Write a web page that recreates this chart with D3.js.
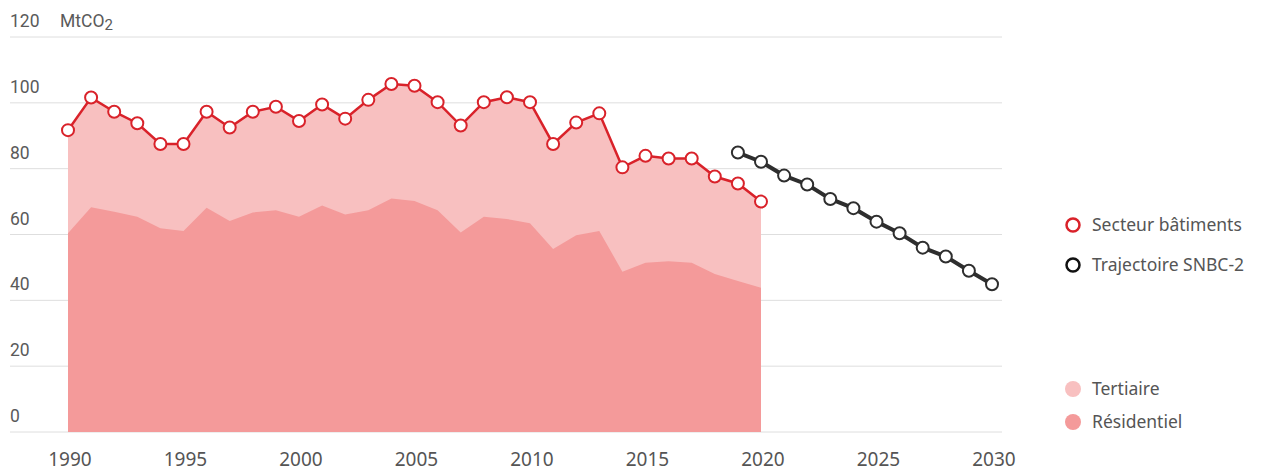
<!DOCTYPE html>
<html>
<head>
<meta charset="utf-8">
<script src="https://cdn.jsdelivr.net/npm/d3@7"></script>
<style>
  body { margin: 0; background: #fff; }
  text { font-family: "Noto Sans", sans-serif; fill: #555; }
</style>
</head>
<body>
<div id="chart"></div>
<script>
// data
var years = d3.range(1990, 2021);
var total = [91.7, 101.6, 97.3, 93.8, 87.5, 87.5, 97.3, 92.5, 97.3, 98.8,
  94.5, 99.5, 95.2, 100.9, 105.7, 105.2, 100.2, 93.1, 100.2, 101.7,
  100.2, 87.5, 94.0, 96.8, 80.4, 83.9, 83.1, 83.1, 77.6, 75.5, 70.0];
var residentiel = [60.4, 68.3, 66.9, 65.4, 61.9, 61.1, 68.1, 64.1, 66.7, 67.4,
  65.4, 68.8, 66.1, 67.4, 70.9, 70.2, 67.4, 60.6, 65.4, 64.7,
  63.4, 55.6, 59.8, 61.1, 48.7, 51.4, 51.9, 51.4, 48.0, 45.9, 43.8];
var snbcYears = d3.range(2019, 2031);
var snbc = [84.9, 82.1, 77.9, 75.2, 70.8, 68.0, 63.9, 60.4, 56.0, 53.3, 49.0, 44.9];
var yTicks = [0, 20, 40, 60, 80, 100, 120];
var xTicks = [1990, 1995, 2000, 2005, 2010, 2015, 2020, 2025, 2030];

var width = 1262, height = 474;
var red = "#d9222a", dark = "#2e2e2e";
var cTert = "#f8c0c0", cRes = "#f49a9a";

var svg = d3.select("#chart").append("svg")
  .attr("width", width)
  .attr("height", height);

var x = d3.scaleLinear().domain([1990, 2030]).range([68, 992]);
var y = d3.scaleLinear().domain([0, 120]).range([432, 37]);

// grid + y labels
var grid = svg.append("g");
yTicks.forEach(function(t){
  grid.append("line")
    .attr("x1", 10).attr("x2", 1002)
    .attr("y1", y(t)).attr("y2", y(t))
    .attr("stroke", "#dedede").attr("stroke-width", 1);
  grid.append("text")
    .attr("x", 10).attr("y", y(t) - 10)
    .style("font-size", "17.5px")
    .style("font-family", "Roboto, sans-serif")
    .style("fill", "#5a5a5a")
    .text(t);
});
var unit = svg.append("text")
  .attr("x", 60).attr("y", y(120) - 10)
  .style("font-size", "17.5px")
  .style("font-family", "Roboto, sans-serif")
  .style("fill", "#5a5a5a");
unit.append("tspan").text("MtCO");
unit.append("tspan").attr("dy", 3).style("font-size", "15px").text("2");

// x labels
xTicks.forEach(function(t){
  svg.append("text")
    .attr("x", x(t) + 2).attr("y", 466)
    .attr("text-anchor", "middle")
    .style("font-size", "19px")
    .text(t);
});

// areas
var rows = years.map(function(yr, i){ return {year: yr, total: total[i], res: residentiel[i]}; });

var areaTotal = d3.area()
  .x(function(d){ return x(d.year); })
  .y0(y(0))
  .y1(function(d){ return y(d.total); });
var areaRes = d3.area()
  .x(function(d){ return x(d.year); })
  .y0(y(0))
  .y1(function(d){ return y(d.res); });

svg.append("path").datum(rows).attr("d", areaTotal).attr("fill", cTert);
svg.append("path").datum(rows).attr("d", areaRes).attr("fill", cRes);

// lines
var line = d3.line()
  .x(function(d){ return x(d[0]); })
  .y(function(d){ return y(d[1]); });

var redPts = years.map(function(yr, i){ return [yr, total[i]]; });
var snbcPts = snbcYears.map(function(yr, i){ return [yr, snbc[i]]; });

svg.append("path").datum(redPts).attr("d", line)
  .attr("fill", "none").attr("stroke", red).attr("stroke-width", 2.5);
svg.selectAll("circle.red").data(redPts).enter().append("circle")
  .attr("class", "red")
  .attr("cx", function(d){ return x(d[0]); })
  .attr("cy", function(d){ return y(d[1]); })
  .attr("r", 6)
  .attr("fill", "#fff").attr("stroke", red).attr("stroke-width", 2);

svg.append("path").datum(snbcPts).attr("d", line)
  .attr("fill", "none").attr("stroke", dark).attr("stroke-width", 4);
svg.selectAll("circle.snbc").data(snbcPts).enter().append("circle")
  .attr("class", "snbc")
  .attr("cx", function(d){ return x(d[0]); })
  .attr("cy", function(d){ return y(d[1]); })
  .attr("r", 6)
  .attr("fill", "#fff").attr("stroke", dark).attr("stroke-width", 2);

// legend
var legend = svg.append("g");
var lineItems = [
  {label: "Secteur bâtiments", color: red, y: 225},
  {label: "Trajectoire SNBC-2", color: "#111", y: 265}
];
lineItems.forEach(function(d){
  legend.append("circle")
    .attr("cx", 1073).attr("cy", d.y).attr("r", 6.5)
    .attr("fill", "#fff").attr("stroke", d.color).attr("stroke-width", 2.5);
  legend.append("text")
    .attr("x", 1092).attr("y", d.y + 6)
    .style("font-size", "17.5px")
    .text(d.label);
});
var areaItems = [
  {label: "Tertiaire", color: cTert, y: 389},
  {label: "Résidentiel", color: cRes, y: 422}
];
areaItems.forEach(function(d){
  legend.append("circle")
    .attr("cx", 1073).attr("cy", d.y).attr("r", 8)
    .attr("fill", d.color);
  legend.append("text")
    .attr("x", 1092).attr("y", d.y + 6)
    .style("font-size", "17.5px")
    .text(d.label);
});
</script>
</body>
</html>
